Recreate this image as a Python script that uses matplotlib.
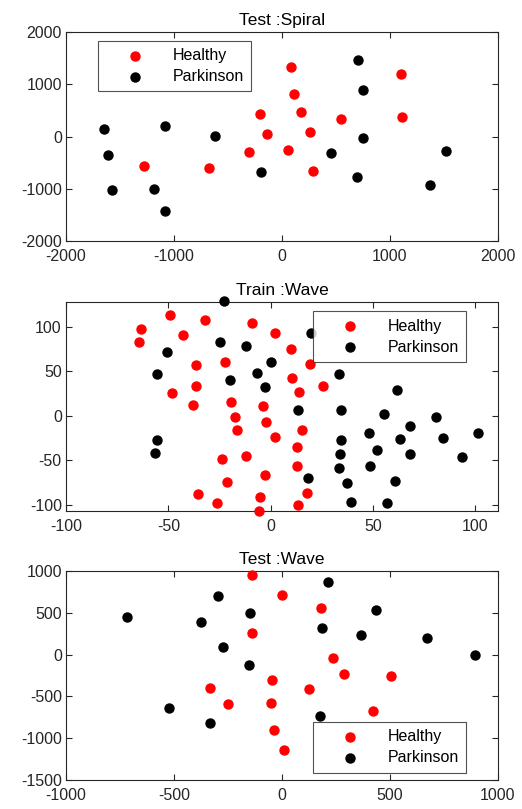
import numpy as np
import matplotlib
matplotlib.use('Agg')
import matplotlib.pyplot as plt

plt.rcParams['font.family'] = ['Liberation Sans', 'DejaVu Sans']
plt.rcParams['axes.unicode_minus'] = False

# Test :Spiral
spiral_h_x = [82, 112, 177, -202, -140, 257, 551, 1099, 1108, -310, 57, 288, -677, -1281]
spiral_h_y = [1334, 822, 464, 426, 54, 80, 342, 1200, 381, -298, -259, -662, -605, -560]
spiral_p_x = [705, 748, 748, 452, 699, -193, -616, -1079, -1652, -1609, -1578, -1189, -1087, 1374, 1522]
spiral_p_y = [1462, 893, -22, -310, -784, -688, 16, 202, 150, -349, -1021, -1002, -1424, -931, -278]

# Train :Wave
wave_tr_h_x = [-63.4, -64.5, -49.3, -43.0, -32.2, -9.1, 2.3, 9.8, -22.3, -36.5, -36.6, -48.2,
               -37.8, -19.2, -17.3, -16.3, -3.6, -2.4, 2.3, 10.4, 13.8, 19.2, 25.6, 15.1,
               12.9, 12.7, -11.9, -23.8, -2.8, -21.3, 17.6, -35.3, -26.4, -5.2, -5.5, 13.2]
wave_tr_h_y = [97.4, 83.5, 113.2, 90.6, 107.5, 104.9, 92.9, 75.2, 60.9, 57.1, 33.5, 25.2,
               11.7, 15.4, -1.5, -15.8, 11.3, -7.1, -24.1, 42.1, 26.3, 57.9, 33.1, -16.5,
               -34.6, -56.0, -45.5, -48.1, -66.5, -74.4, -86.8, -88.3, -98.1, -91.0, -107.1, -100.0]
wave_tr_p_x = [-22.8, -24.6, -11.9, 0.2, -6.7, -19.7, -2.8, -50.5, -55.5, 19.9, 33.4, 13.4,
               34.2, 61.9, 55.2, 80.9, 68.2, 48.0, 34.2, 63.2, 84.2, 101.0, 52.0, 33.7,
               67.8, 93.3, 48.4, 33.2, 18.4, 37.3, 60.6, 39.3, 56.8, -55.4, -56.4]
wave_tr_p_y = [128.6, 83.5, 78.2, 60.9, 48.1, 40.2, 32.3, 71.8, 47.4, 93.2, 47.0, 6.4,
               6.0, 28.9, 1.9, -1.1, -10.9, -19.5, -26.7, -26.3, -24.8, -18.8, -38.3, -42.5,
               -42.5, -46.6, -56.0, -58.6, -70.3, -75.2, -73.3, -97.4, -98.5, -26.7, -42.1]

# Test :Wave
wave_te_h_x = [-138, 1, 181, -138, 234, 289, 505, -44, 125, -335, -251, -52, 422, -36, 8]
wave_te_h_y = [959, 714, 554, 265, -44, -237, -253, -309, -405, -397, -594, -582, -670, -903, -1144]
wave_te_p_x = [214, -298, -149, -377, -719, 184, 436, 368, 670, 892, -272, -154, -525, -334, 178]
wave_te_p_y = [871, 706, 494, 389, 453, 321, 534, 233, 205, 0, 88, -124, -642, -823, -738]

fig = plt.figure(figsize=(5.22, 8.09), dpi=100)

panels = [
    ('Test :Spiral', spiral_h_x, spiral_h_y, spiral_p_x, spiral_p_y,
     (-2000, 2000), (-2000, 2000), [-2000, -1000, 0, 1000, 2000], [-2000, -1000, 0, 1000, 2000],
     0.7021, (0.074, 0.957)),
    ('Train :Wave', wave_tr_h_x, wave_tr_h_y, wave_tr_p_x, wave_tr_p_y,
     (-100, 111), (-107, 128), [-100, -50, 0, 50, 100], [-100, -50, 0, 50, 100],
     0.3684, (0.572, 0.955)),
    ('Test :Wave', wave_te_h_x, wave_te_h_y, wave_te_p_x, wave_te_p_y,
     (-1000, 1000), (-1500, 1000), [-1000, -500, 0, 500, 1000], [-1500, -1000, -500, 0, 500, 1000],
     0.0358, (0.572, 0.277)),
]

for title, hx, hy, px, py, xl, yl, xt, yt, bottom, lpos in panels:
    ax = fig.add_axes([0.1264, bottom, 0.8276, 0.2583])
    ax.scatter(hx, hy, s=42, color='#ff0000', label='Healthy', clip_on=False, zorder=3)
    ax.scatter(px, py, s=42, color='black', label='Parkinson', clip_on=False, zorder=3)
    ax.set_xlim(xl)
    ax.set_ylim(yl)
    ax.set_xticks(xt)
    ax.set_yticks(yt)
    ax.set_title(title, fontsize=12.5, pad=5)
    ax.tick_params(direction='in', top=True, right=True, labelsize=11.5,
                   colors='#262626', length=4, width=0.8, pad=3)
    ax.tick_params(axis='x', pad=6)
    for sp in ax.spines.values():
        sp.set_color('#262626')
        sp.set_linewidth(0.8)
    leg = ax.legend(loc='upper left', bbox_to_anchor=lpos, borderaxespad=0,
                    fontsize=11.5, frameon=True, fancybox=False, edgecolor='#262626',
                    handletextpad=0.52, handlelength=3.7, borderpad=0.45,
                    labelspacing=0.38, scatterpoints=1)
    leg.get_frame().set_linewidth(0.8)
    leg.set_zorder(5)

plt.savefig('out.png', dpi=100)
